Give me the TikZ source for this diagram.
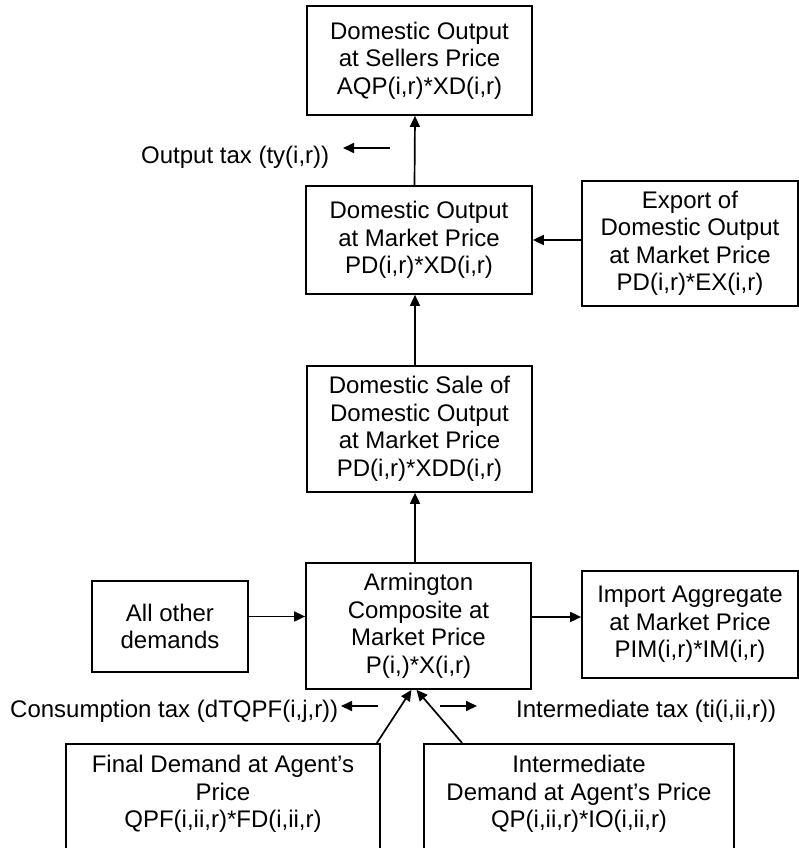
\documentclass[tikz,border=0pt]{standalone}
\usepackage{fontspec}
\setmainfont{Liberation Sans}
\usetikzlibrary{arrows.meta}
\begin{document}
\begin{tikzpicture}[x=1pt,y=-1pt,
  every node/.style={font=\fontsize{24}{27.5}\selectfont},
  box/.style={draw,line width=1.7pt,align=center,inner sep=0pt},
  lbl/.style={inner sep=0pt,anchor=base west},
  arr/.style={line width=1.7pt,-{Triangle[length=11pt,width=10pt]}}]
\useasboundingbox (0,0) rectangle (799,848);

% main column
\node[box,minimum width=225,minimum height=109] (top) at (419.5,60.5)
  {Domestic Output\\at Sellers Price\\AQP(i,r)*XD(i,r)};
\node[box,minimum width=226,minimum height=108] (domp) at (419,240)
  {Domestic Output\\at Market Price\\PD(i,r)*XD(i,r)};
\node[box,minimum width=216,minimum height=125] (exp) at (690,243.5)
  {Export of\\Domestic Output\\at Market Price\\PD(i,r)*EX(i,r)};
\node[box,minimum width=225,minimum height=126] (sale) at (419.5,429)
  {Domestic Sale of\\Domestic Output\\at Market Price\\PD(i,r)*XDD(i,r)};
\node[box,minimum width=225,minimum height=126] (arm) at (418.5,626)
  {Armington\\Composite at\\Market Price\\P(i,)*X(i,r)};
\node[box,minimum width=156,minimum height=91] (other) at (170,626.5)
  {All other\\demands};
\node[box,minimum width=216,minimum height=107] (imp) at (690,624.5)
  {Import Aggregate\\at Market Price\\PIM(i,r)*IM(i,r)};

% demand boxes running past the lower edge
\node[box,minimum width=314,minimum height=160,anchor=north] (fd) at (223,743) {};
\node[box,minimum width=310,minimum height=160,anchor=north] (id) at (579,743) {};
\node[align=center,inner sep=0pt,anchor=north] (fdtext) at ([yshift=-12pt]fd.north)
  {Final Demand at Agent’s\\Price\\QPF(i,ii,r)*FD(i,ii,r)};
\node[align=center,inner sep=0pt,anchor=north] (idtext) at ([yshift=-12pt]id.north)
  {Intermediate\\Demand at Agent’s Price\\QP(i,ii,r)*IO(i,ii,r)};

% tax labels
\node[lbl] (otax) at (141,163) {Output tax (ty(i,r))};
\node[lbl] (ctax) at (10,717) {Consumption tax (dTQPF(i,j,r))};
\node[lbl] (itax) at (516,717) {Intermediate tax (ti(i,ii,r))};
\coordinate (otA) at (390,148);
\coordinate (ctA) at (378,706);
\coordinate (itA) at (440,706);
\coordinate (itB) at (477,706);

% flows
\draw[arr] ([xshift=-4.5pt]domp.north) -- ([xshift=-4.5pt]top.south);
\draw[arr] ([xshift=-4.5pt]sale.north) -- ([xshift=-4pt]domp.south);
\draw[arr] ([xshift=-3.5pt]arm.north) -- ([xshift=-4.5pt]sale.south);
\draw[arr] (exp.west |- domp.east) -- (domp.east);
\draw[arr] ([yshift=10pt]other.east) -- ([yshift=10pt]other.east -| arm.west);
\draw[arr] ([yshift=9pt]arm.east) -- ([yshift=9pt]arm.east -| imp.west);
\draw[arr] ([xshift=-4pt]fd.north east) -- ([xshift=-7pt]arm.south);
\draw[arr] ([xshift=39pt]id.north west) -- ([xshift=-2pt]arm.south);

% tax arrows
\draw[arr] (otA) -- (otA -| {343,0});
\draw[arr] (ctA) -- (ctA -| {341,0});
\draw[arr] (itA) -- (itB);
\end{tikzpicture}
\end{document}
